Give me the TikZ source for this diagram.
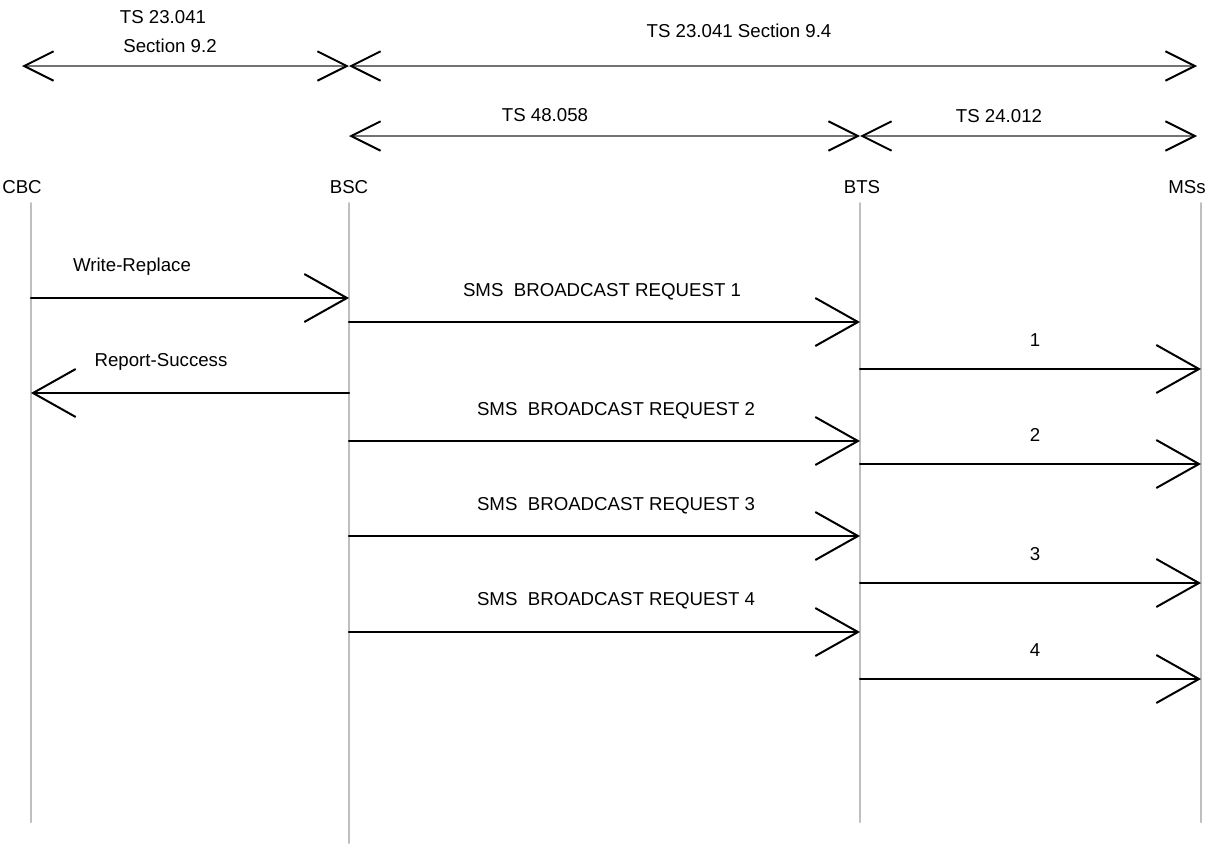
\documentclass[tikz,border=0pt]{standalone}
\usepackage{fontspec}
\setmainfont{Liberation Sans}
\usetikzlibrary{arrows.meta}

\begin{document}
\begin{tikzpicture}[line cap=round,line join=round,x=0.75pt,y=-0.75pt,
  font=\fontsize{14}{16}\selectfont,
  life/.style={draw=black!25,line width=1.5pt},
  msg/.style={line width=1.6pt,-{Straight Barb[length=32pt,width=36pt,line width=1.5pt]}},
  specspan/.style={draw=black!55,line width=1pt,
    {Straight Barb[length=22pt,width=22pt,line width=1.5pt,color=black]}-{Straight Barb[length=22pt,width=22pt,line width=1.5pt,color=black]}}]
\useasboundingbox (0,0) rectangle (1218,843);
% lifelines
\node (cbc) at (22,187) {CBC};
\node (bsc) at (349,187) {BSC};
\node (bts) at (862,187) {BTS};
\node (ms) at (1187,187) {MSs};
\coordinate (cbctop) at (31,203);
\coordinate (bsctop) at (349,203);
\coordinate (btstop) at (860,203);
\coordinate (mstop) at (1201,203);
\draw [life] (cbctop)-- (cbctop |- 0,822);
\draw [life] (bsctop)-- (bsctop |- 0,843);
\draw [life] (btstop)-- (btstop |- 0,822);
\draw [life] (mstop)-- (mstop |- 0,822);
% specification spans
\coordinate (spanl) at (22,66);
\coordinate (spanr) at (1197,66);
\draw [specspan] (spanl)-- (bsctop |- spanl);
\draw [specspan] (bsctop |- spanl)-- (spanr);
\draw [specspan] (bsctop |- 0,136)-- (btstop |- 0,136);
\draw [specspan] (btstop |- 0,136)-- (spanr |- 0,136);
\node (ts1) at (163,17) {TS 23.041};
\node (ts2) at (170,46) {Section 9.2};
\node (ts3) at (739,31) {TS 23.041 Section 9.4};
\node (ts4) at (545,115) {TS 48.058};
\node (ts5) at (999,116) {TS 24.012};
% messages
\draw [msg] (cbctop |- 0,298)-- (bsctop |- 0,298);
\node (wr) at (132,267) {Write-Replace};
\draw [msg] (bsctop |- 0,393)-- (cbctop |- 0,393);
\node (rs) at (161,362) {Report-Success};
\foreach \i/\ya/\yb/\xl/\yl in {1/322/369/602/292, 2/441/464/616/411, 3/536/583/616/506, 4/632/679/616/601}
{
  \draw [msg] (bsctop |- 0,\ya)-- (btstop |- 0,\ya);
  \node (req\i) at (\xl,\yl) {SMS~~BROADCAST REQUEST \i};
  \draw [msg] (btstop |- 0,\yb)-- (mstop |- 0,\yb);
  \node (cb\i) at (1035,\yb-29) {\i};
}
\end{tikzpicture}
\end{document}
